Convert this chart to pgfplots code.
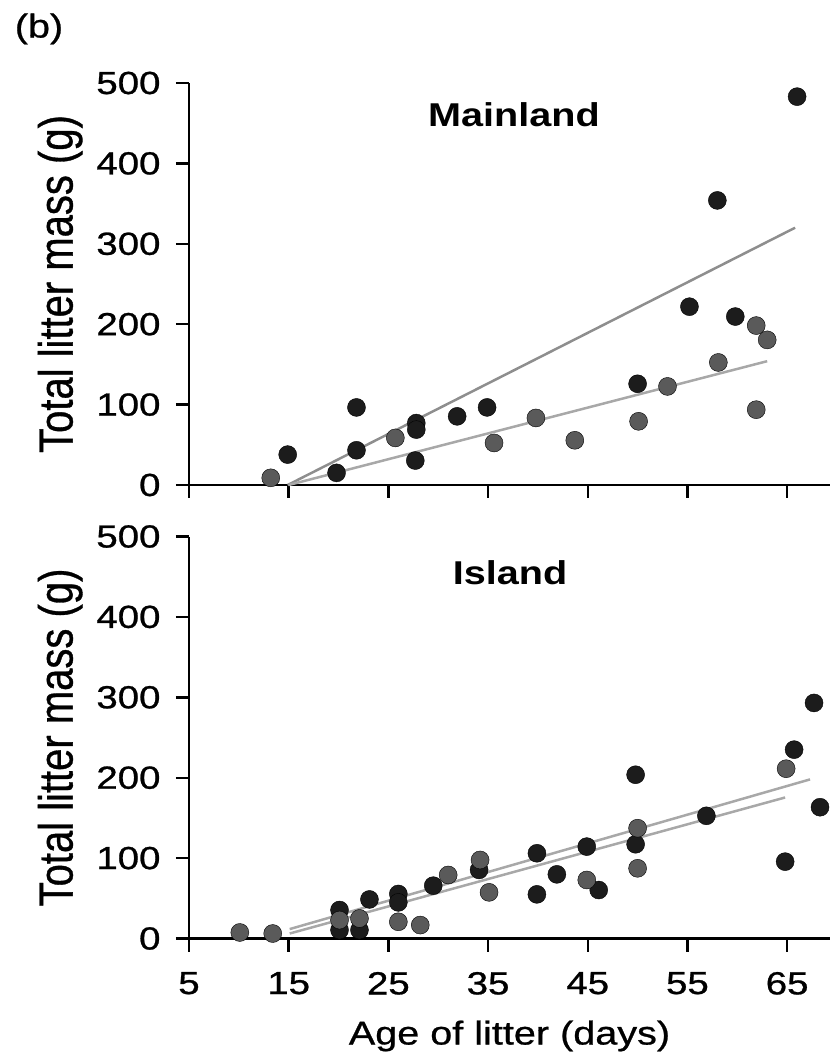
\documentclass[border=0pt]{standalone}
\usepackage{fontspec}
\setmainfont{Liberation Sans}[FakeStretch=1.2, UprightFeatures={FakeBold=0.8}]
\newfontfamily\labelfont{Liberation Sans}[FakeBold=0.8]
\usepackage{graphicx}
\usepackage{pgfplots}
\pgfplotsset{compat=1.18}

\definecolor{darkpt}{HTML}{1C1C1C}
\definecolor{greypt}{HTML}{5A5A5A}
\definecolor{fitA}{HTML}{8E8E8E}
\definecolor{fitB}{HTML}{A8A8A8}

% Mainland litters
\pgfplotstableread{
x y
14.9 37.8
19.8 15.1
21.8 96.5
21.8 43.2
27.8 77
27.8 68.9
27.7 30.4
31.9 85.4
34.9 96.5
50.0 125.9
55.2 221.8
58.0 354
59.8 209.5
66.0 483
}\mainlandA
\pgfplotstableread{
x y
13.2 8.9
25.7 58.6
35.6 52.3
39.8 83.4
43.7 55.6
50.1 79.2
53.0 122.6
58.1 152.4
61.9 198.3
63.0 180.5
61.9 93.7
}\mainlandB

% Island litters
\pgfplotstableread{
x y
20.1 35.4
20.1 10.5
22.1 10.5
23.1 48.6
26.0 55.4
26.0 44.9
29.5 65.7
34.1 85.3
39.9 106
39.9 54.9
41.9 79.8
44.9 114.3
46.1 60.3
49.8 203.7
49.8 117.2
56.9 152.6
64.8 95.6
65.7 234.9
67.7 293
68.3 163.3
}\islandA
\pgfplotstableread{
x y
10.1 7.5
13.4 6.2
20.1 22.9
22.1 24.9
26.0 20.8
28.2 16.7
31.0 79
34.2 97.7
35.1 57.4
44.9 72.8
50.0 137.2
50.0 87.3
64.9 211.2
}\islandB

\pgfplotsset{
  litter/.style={
    scale only axis, width=641pt, height=402pt,
    xmin=5, xmax=69.3, ymin=0, ymax=500,
    axis x line*=bottom, axis y line*=left,
    xtick={5,15,...,65}, ytick={0,100,...,500},
    tick align=outside, major tick length=13pt,
    axis line style={black, line width=2.4pt},
    tick style={black, line width=2.4pt},
    every tick label/.append style={font=\fontsize{32}{36}\selectfont},
    xticklabel style={yshift=-17pt},
    yticklabel style={xshift=-12pt},
    /pgf/number format/assume math mode=true,
    ylabel={\labelfont\fontsize{40}{44}\selectfont\scalebox{1}[1.2]{Total litter mass (g)}},
    ylabel style={at={(axis description cs:-0.201,0.5)}, anchor=center},
    clip=false,
  },
  dots/.style={only marks, mark=*, mark size=9pt, draw=none, fill=#1, mark options={draw=none, fill=#1}},
  fit/.style={no marks, line width=2.5pt, color=#1},
}

\begin{document}
\begin{tikzpicture}
\useasboundingbox (0,0) rectangle (837pt,1061pt);
\node[font=\fontsize{33}{36}\selectfont, anchor=center] at (39pt,1032pt) {(b)};

\begin{axis}[litter, at={(189pt,576pt)}, anchor=south west, xticklabels={}]
  \addplot[fit=fitA] coordinates {(14.9,0) (65.8,320)};
  \addplot[fit=fitB] coordinates {(15.0,0) (63.0,154)};
  \addplot[dots=darkpt] table {\mainlandA};
  \addplot[dots=greypt] table {\mainlandB};
  \node[font=\bfseries\fontsize{33}{36}\selectfont] at (axis cs:37.6,461) {Mainland};
\end{axis}

\begin{axis}[litter, at={(189pt,122.5pt)}, anchor=south west,
  xlabel={Age of litter (days)},
  xlabel style={font=\fontsize{33}{36}\selectfont, at={(axis description cs:0.5,-0.2425)}, anchor=center}]
  \addplot[fit=fitB] coordinates {(15.1,11.7) (67.3,197.9)};
  \addplot[fit=fitB] coordinates {(15.1,6.2) (64.8,175.4)};
  \addplot[dots=darkpt] table {\islandA};
  \addplot[dots=greypt] table {\islandB};
  \node[font=\bfseries\fontsize{33}{36}\selectfont] at (axis cs:37.2,455) {Island};
\end{axis}
\end{tikzpicture}
\end{document}
